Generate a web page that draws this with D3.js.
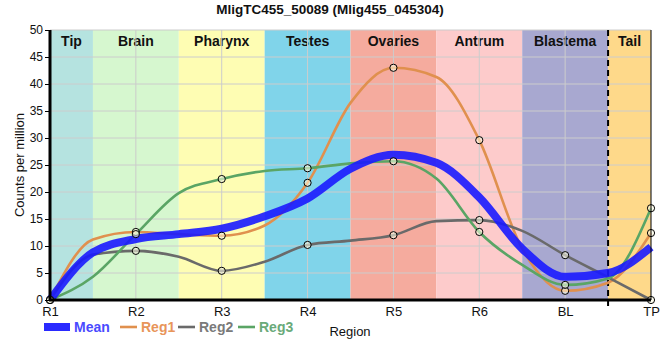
<!DOCTYPE html>
<html><head><meta charset="utf-8">
<script src="https://cdn.jsdelivr.net/npm/d3@7"></script>
<style>body{margin:0;background:#fff}svg{display:block}text{font-family:"Liberation Sans Narrow","Arial Narrow","Liberation Sans",sans-serif}</style>
</head><body><svg id="c" width="660" height="360"></svg>
<script>
// Region samples (circles) and values read at the band boundaries between regions
const categories = ["R1","R2","R3","R4","R5","R6","BL","TP"];
const reg1 = [0, 12.6, 11.9, 21.7, 43.0, 29.6, 1.7, 12.4];
const reg2 = [0, 9.1, 5.4, 10.2, 12.0, 14.8, 8.3, 0];
const reg3 = [0, 12.2, 22.4, 24.4, 25.7, 12.6, 2.8, 17.0];
const mean = [0, 11.3, 13.2, 18.8, 26.9, 19.0, 4.3, 9.8];
const reg1Mid = [11.2, 12.2, 13.8, 36.5, 41.3, 9.5, 3.2];
const reg2Mid = [8.4, 8.0, 7.1, 11.0, 14.6, 12.8, 4.2];
const reg3Mid = [4.3, 19.8, 23.9, 25.3, 22.5, 6.5, 4.0];
const meanMid = [8.8, 12.2, 15.5, 24.3, 25.4, 9.5, 5.0];
const bandNames = ["Tip","Brain","Pharynx","Testes","Ovaries","Antrum","Blastema","Tail"];
const bandColors = ["#b5e3e0","#d6f7cf","#fefdb3","#80d4ea","#f5ab9e","#fdcbcb","#a8a8d0","#fed98a"];
const yTicks = [0,5,10,15,20,25,30,35,40,45,50];

const svg = d3.select("#c");
const L=50, R=651, T=30, B=300;
const x = d3.scaleLinear().domain([0, categories.length-1]).range([L,R]);
const y = d3.scaleLinear().domain([0,50]).range([B,T]);

function merge(main, mid){
  const out=[];
  main.forEach((v,i)=>{ out.push([i,v]); if(i<mid.length) out.push([i+0.5, mid[i]]); });
  return out;
}

// bands
const edges = [0, ...d3.range(0.5, categories.length-1, 1), categories.length-1];
bandNames.forEach((n,i)=>{
  svg.append("rect").attr("x",x(edges[i])).attr("y",T).attr("width",x(edges[i+1])-x(edges[i])).attr("height",B-T).attr("fill",bandColors[i]);
  svg.append("text").attr("x",(x(edges[i])+x(edges[i+1]))/2).attr("y",T+16).attr("text-anchor","middle")
    .attr("font-size",14).attr("font-weight","bold").attr("fill","#111").text(n);
});
// grid
svg.append("g").selectAll("line").data(yTicks.slice(1)).join("line")
  .attr("x1",L).attr("x2",R).attr("y1",d=>y(d)).attr("y2",d=>y(d)).attr("stroke","#cccccc").attr("stroke-width",1);
svg.append("g").selectAll("line").data(d3.range(1,categories.length-1)).join("line")
  .attr("y1",T).attr("y2",B).attr("x1",d=>x(d)).attr("x2",d=>x(d)).attr("stroke","#cccccc").attr("stroke-width",1);
// dashed separator between Blastema and Tail
svg.append("line").attr("x1",x(edges[7])).attr("x2",x(edges[7])).attr("y1",T).attr("y2",B+8)
  .attr("stroke","#000").attr("stroke-width",2).attr("stroke-dasharray","6,4");

const line = d3.line().x(d=>x(d[0])).y(d=>y(d[1])).curve(d3.curveMonotoneX);
const series = [
  {name:"Reg1", vals:reg1, mid:reg1Mid, color:"#e0904e", text:"#e8955a"},
  {name:"Reg2", vals:reg2, mid:reg2Mid, color:"#6a6a6a", text:"#7a7a7a"},
  {name:"Reg3", vals:reg3, mid:reg3Mid, color:"#5aa565", text:"#6aaa7a"}
];
series.forEach(s=>{
  svg.append("path").attr("d",line(merge(s.vals,s.mid))).attr("fill","none").attr("stroke",s.color).attr("stroke-width",2.6);
});
svg.append("path").attr("d",line(merge(mean,meanMid))).attr("fill","none").attr("stroke","#1a1aff").attr("stroke-opacity",0.9).attr("stroke-width",8);
series.forEach(s=>{
  svg.append("g").selectAll("circle").data(s.vals).join("circle")
    .attr("cx",(d,i)=>x(i)).attr("cy",d=>y(d)).attr("r",3.6)
    .attr("fill","rgba(255,255,230,0.55)").attr("stroke","#000").attr("stroke-width",1);
});

// axes
svg.append("line").attr("x1",L).attr("x2",L).attr("y1",T).attr("y2",B+1).attr("stroke","#000").attr("stroke-width",3);
svg.append("line").attr("x1",L-1).attr("x2",R).attr("y1",B).attr("y2",B).attr("stroke","#000").attr("stroke-width",3);
svg.append("line").attr("x1",R).attr("x2",R).attr("y1",T).attr("y2",B).attr("stroke","#000").attr("stroke-width",1);
const ya = d3.axisLeft(y).tickValues(yTicks).tickSize(4).tickPadding(2);
const gy = svg.append("g").attr("transform",`translate(${L-1},0)`).call(ya);
gy.select(".domain").remove();
gy.selectAll("text").attr("font-size",12).attr("fill","#111").style("font-family",'"Liberation Sans Narrow","Arial Narrow",sans-serif');
gy.selectAll("line").attr("stroke","#000");
const xa = d3.axisBottom(x).tickValues(d3.range(categories.length)).tickFormat(i=>categories[i]).tickSize(0).tickPadding(6);
const gx = svg.append("g").attr("transform",`translate(0,${B+1})`).call(xa);
gx.select(".domain").remove();
gx.selectAll("text").attr("font-size",13).attr("fill","#111").style("font-family",'"Liberation Sans Narrow","Arial Narrow",sans-serif');

// titles
svg.append("text").attr("x",330).attr("y",14).attr("text-anchor","middle").attr("font-size",13.5).attr("font-weight","bold").attr("fill","#111")
  .text("MligTC455_50089 (Mlig455_045304)");
svg.append("text").attr("transform","translate(24,165) rotate(-90)").attr("text-anchor","middle").attr("font-size",13)
  .style("font-family",'"Liberation Sans","Arial",sans-serif').attr("fill","#111").text("Counts per million");
svg.append("text").attr("x",350).attr("y",336).attr("text-anchor","middle").attr("font-size",13).attr("fill","#111").text("Region");

// legend
const lg = svg.append("g");
lg.append("rect").attr("x",44).attr("y",323).attr("width",26).attr("height",8).attr("fill","#2a2aff");
lg.append("text").attr("x",74).attr("y",332).attr("font-size",14).attr("font-weight","bold").attr("fill","#4a4aff").text("Mean");
const lx = [120,178,238];
series.forEach((s,i)=>{
  lg.append("line").attr("x1",lx[i]).attr("x2",lx[i]+17).attr("y1",327).attr("y2",327).attr("stroke",s.color).attr("stroke-width",2.6);
  lg.append("text").attr("x",lx[i]+21).attr("y",332).attr("font-size",14).attr("font-weight","bold").attr("fill",s.text).text(s.name);
});
</script></body></html>
